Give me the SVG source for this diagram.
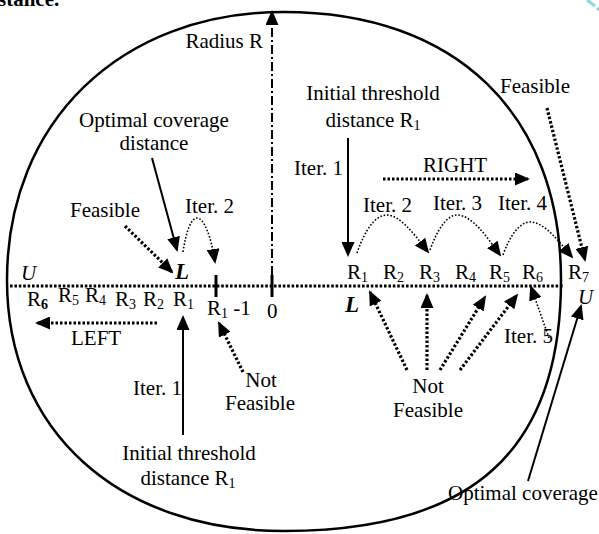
<svg xmlns="http://www.w3.org/2000/svg" width="599" height="534" viewBox="0 0 599 534">
<defs>
<marker id="ah" markerUnits="userSpaceOnUse" markerWidth="15" markerHeight="13" refX="13" refY="6.5" orient="auto" viewBox="0 0 15 13"><path d="M0,0 L15,6.5 L0,13 Z" fill="#000"/></marker>
</defs>
<style>
text{font-family:"Liberation Serif","Times New Roman",serif;font-size:21px;fill:#000}
.sub{font-size:14px}
.it{font-style:italic}
.bi{font-style:italic;font-weight:bold;font-size:23px}
.mid{text-anchor:middle}
.end{text-anchor:end}
.solid{stroke:#000;stroke-width:2;fill:none}
.thick{stroke:#000;stroke-width:3.2;stroke-dasharray:2.5 2;fill:none}
.thin{stroke:#000;stroke-width:1.6;stroke-dasharray:1.6 1.8;fill:none}
.axis{stroke:#000;stroke-width:3;stroke-dasharray:2.6 1.8;fill:none}
.tick{stroke:#000;stroke-width:3;fill:none}
</style>
<rect width="599" height="534" fill="#fff"/>
<text x="-2" y="6" font-weight="bold" font-size="27">stance.</text>
<path d="M587,0 L595,6 M597,8 L599,10" stroke="#8fd6dc" stroke-width="3" fill="none"/>

<g id="boundary">
<path d="M284,12 C455.7,12 561,113.8 561,280 C561,450.7 472.4,531 284,531 C117.8,531 7,430.6 7,280 C7,121.9 120.6,12 284,12 Z" fill="none" stroke="#000" stroke-width="2.5"/>
</g>

<g id="axis">
<line class="axis" x1="10" y1="286" x2="563" y2="286"/>
<line class="tick" x1="216" y1="275" x2="216" y2="297"/>
<line class="tick" x1="272" y1="275" x2="272" y2="297"/>
</g>

<g id="connectors">
<line x1="272" y1="275" x2="272" y2="12" stroke="#000" stroke-width="2" stroke-dasharray="9 3 2 3" marker-end="url(#ah)"/>
<line class="solid" x1="152" y1="158" x2="177" y2="250" marker-end="url(#ah)"/>
<line class="thick" x1="125" y1="226" x2="172" y2="272" marker-end="url(#ah)"/>
<path class="thin" d="M183,252 C186,232 191,218 197,218 C204,218 211,236 215,262" marker-end="url(#ah)"/>
<line class="thick" x1="157" y1="323" x2="37" y2="323" marker-end="url(#ah)"/>
<line class="solid" x1="183" y1="435" x2="183" y2="317" marker-end="url(#ah)"/>
<line class="thick" x1="243" y1="372" x2="219" y2="323" marker-end="url(#ah)"/>
<line class="solid" x1="348" y1="138" x2="348" y2="255" marker-end="url(#ah)"/>
<line class="thick" x1="383" y1="179" x2="528" y2="179" marker-end="url(#ah)"/>
<line class="thick" x1="547" y1="108" x2="585" y2="260" marker-end="url(#ah)"/>
<path class="thin" d="M357,253 C365,230 375,215 387,215 C400,215 415,235 428,252" marker-end="url(#ah)"/>
<path class="thin" d="M430,250 C437,230 447,215 457,215 C472,215 487,237 500,255" marker-end="url(#ah)"/>
<path class="thin" d="M503,255 C510,235 520,222 530,222 C545,222 560,243 572,257" marker-end="url(#ah)"/>
<line class="thick" x1="407" y1="370" x2="370" y2="292" marker-end="url(#ah)"/>
<line class="thick" x1="427" y1="370" x2="427" y2="295" marker-end="url(#ah)"/>
<line class="thick" x1="440" y1="370" x2="485" y2="297" marker-end="url(#ah)"/>
<line class="thick" x1="460" y1="370" x2="517" y2="295" marker-end="url(#ah)"/>
<path class="thin" d="M549,338 L531,287" marker-end="url(#ah)"/>
<line class="solid" x1="528" y1="481" x2="581" y2="306" marker-end="url(#ah)"/>
</g>

<g id="label-radius"><text class="end" x="263" y="48">Radius R</text></g>
<g id="label-optimal-left"><text class="mid" x="154" y="127">Optimal coverage</text><text class="mid" x="154" y="150">distance</text></g>
<g id="label-feasible-left"><text x="70" y="217">Feasible</text></g>
<g id="label-iter2-left"><text x="185" y="213">Iter. 2</text></g>
<g id="label-L-left"><text class="bi" x="175" y="279">L</text></g>
<g id="label-U-left"><text class="it" x="21" y="280">U</text></g>
<g id="labels-left-R">
<text x="27" y="306">R<tspan class="sub" dy="3" font-weight="bold">6</tspan></text>
<text x="58" y="302">R<tspan class="sub" dy="3">5</tspan></text>
<text x="85" y="302">R<tspan class="sub" dy="3">4</tspan></text>
<text x="115" y="306">R<tspan class="sub" dy="3">3</tspan></text>
<text x="143" y="306">R<tspan class="sub" dy="3">2</tspan></text>
<text x="173" y="306">R<tspan class="sub" dy="3">1</tspan></text>
</g>
<g id="label-r1m1"><text x="207" y="315">R<tspan class="sub" dy="3">1</tspan><tspan dy="-3"> -1</tspan></text></g>
<g id="label-zero"><text x="267" y="318">0</text></g>
<g id="label-left"><text x="71" y="345">LEFT</text></g>
<g id="label-iter1-left"><text x="133" y="395">Iter. 1</text></g>
<g id="label-notfeasible-left"><text class="mid" x="261" y="387">Not</text><text class="mid" x="260" y="410">Feasible</text></g>
<g id="label-initial-left"><text class="mid" x="189" y="460">Initial threshold</text><text class="mid" x="188" y="485">distance R<tspan class="sub" dy="3">1</tspan></text></g>

<g id="label-feasible-right"><text x="500" y="93">Feasible</text></g>
<g id="label-initial-right"><text class="mid" x="373" y="100">Initial threshold</text><text class="mid" x="373" y="127">distance R<tspan class="sub" dy="3">1</tspan></text></g>
<g id="label-iter1-right"><text class="end" x="343" y="175">Iter. 1</text></g>
<g id="label-right"><text x="423" y="172">RIGHT</text></g>
<g id="label-iter2-right"><text x="363" y="212">Iter. 2</text></g>
<g id="label-iter3"><text x="433" y="210">Iter. 3</text></g>
<g id="label-iter4"><text x="498" y="210">Iter. 4</text></g>
<g id="labels-right-R">
<text x="347" y="279">R<tspan class="sub" dy="3">1</tspan></text>
<text x="383" y="279">R<tspan class="sub" dy="3">2</tspan></text>
<text x="419" y="279">R<tspan class="sub" dy="3">3</tspan></text>
<text x="455" y="279">R<tspan class="sub" dy="3">4</tspan></text>
<text x="489" y="279">R<tspan class="sub" dy="3">5</tspan></text>
<text x="522" y="279">R<tspan class="sub" dy="3">6</tspan></text>
<text x="568" y="279">R<tspan class="sub" dy="3">7</tspan></text>
</g>
<g id="label-L-right"><text class="bi" x="345" y="312">L</text></g>
<g id="label-U-right"><text class="it" x="578" y="304">U</text></g>
<g id="label-notfeasible-right"><text class="mid" x="428" y="393">Not</text><text class="mid" x="428" y="417">Feasible</text></g>
<g id="label-iter5"><text x="504" y="343">Iter. 5</text></g>
<g id="label-optimal-right"><text x="448" y="500">Optimal coverage</text></g>
</svg>
